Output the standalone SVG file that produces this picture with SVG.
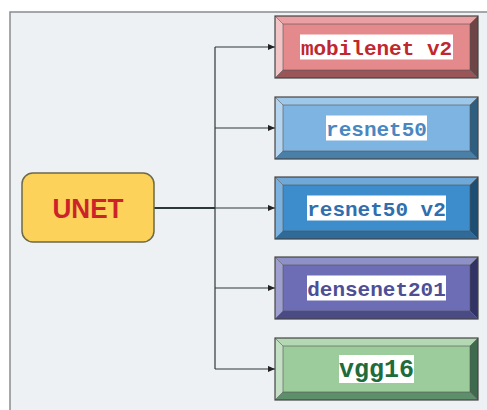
<svg xmlns="http://www.w3.org/2000/svg" width="487" height="410" viewBox="0 0 487 410">
<style>
.frame{fill:#eef1f4;stroke:#8a8c8e;stroke-width:1.5}
.unet{fill:#fdd25a;stroke:#6b6a4a;stroke-width:1.5}
.unett{font-family:"Liberation Sans",Arial,sans-serif;font-weight:bold;font-size:28px;fill:#cc2229}
.edge{fill:none;stroke:#2b3838;stroke-width:1.2}
.main{fill:none;stroke:#2b3838;stroke-width:2}
.out{fill:none;stroke:#444;stroke-width:1.2}
.in{fill:none;stroke:#555;stroke-width:0.6}
.lbl{fill:#fff}
.t{font-family:"Liberation Mono","Courier New",monospace;font-weight:bold;font-size:21px;text-anchor:middle}
</style>
<defs>
<marker id="arr" viewBox="0 0 8 8" refX="8" refY="4" markerWidth="7" markerHeight="7" markerUnits="userSpaceOnUse" orient="auto">
<path d="M0,0.5 L8,4 L0,7.5 Z" fill="#222"/>
</marker>
</defs>
<rect class="frame" x="10" y="12" width="490" height="410"/>

<g id="connectors">
<line class="main" x1="154" y1="208" x2="215" y2="208"/>
<line class="edge" x1="215" y1="47" x2="215" y2="369"/>
<line class="edge" x1="215" y1="47" x2="275" y2="47" marker-end="url(#arr)"/>
<line class="edge" x1="215" y1="128" x2="275" y2="128" marker-end="url(#arr)"/>
<line class="edge" x1="215" y1="208" x2="275" y2="208" marker-end="url(#arr)"/>
<line class="edge" x1="215" y1="288" x2="275" y2="288" marker-end="url(#arr)"/>
<line class="edge" x1="215" y1="369" x2="275" y2="369" marker-end="url(#arr)"/>
</g>

<g id="unet">
<rect class="unet" x="22" y="173" width="132" height="69" rx="11"/>
<text class="unett" x="88" y="218" text-anchor="middle" textLength="71" lengthAdjust="spacingAndGlyphs">UNET</text>
</g>

<g id="mobilenet" transform="translate(275,16)">
<rect x="8" y="8" width="187" height="46" fill="#e4898c"/>
<polygon points="0,0 203,0 195,8 8,8" fill="#eaa0a2"/>
<polygon points="0,0 8,8 8,54 0,62" fill="#f2c4c5"/>
<polygon points="203,0 195,8 195,54 203,62" fill="#6e4446"/>
<polygon points="0,62 8,54 195,54 203,62" fill="#9a5558"/>
<path class="in" d="M0,0 L8,8 M203,0 L195,8 M0,62 L8,54 M203,62 L195,54"/>
<rect class="in" x="8" y="8" width="187" height="46"/>
<rect class="out" x="0" y="0" width="203" height="62"/>
<rect class="lbl" x="25" y="18.5" width="153" height="25"/>
<text class="t" x="101.5" y="38.5" fill="#c0282d">mobilenet v2</text>
</g>

<g id="resnet50" transform="translate(275,97)">
<rect x="8" y="8" width="187" height="46" fill="#7db4e2"/>
<polygon points="0,0 203,0 195,8 8,8" fill="#9ec8ea"/>
<polygon points="0,0 8,8 8,54 0,62" fill="#b4d4ef"/>
<polygon points="203,0 195,8 195,54 203,62" fill="#2e5f80"/>
<polygon points="0,62 8,54 195,54 203,62" fill="#4a7fa8"/>
<path class="in" d="M0,0 L8,8 M203,0 L195,8 M0,62 L8,54 M203,62 L195,54"/>
<rect class="in" x="8" y="8" width="187" height="46"/>
<rect class="out" x="0" y="0" width="203" height="62"/>
<rect class="lbl" x="51" y="18.5" width="101" height="25"/>
<text class="t" x="101.5" y="38.5" fill="#4a86bf">resnet50</text>
</g>

<g id="resnet50v2" transform="translate(275,177)">
<rect x="8" y="8" width="187" height="46" fill="#3d8ccb"/>
<polygon points="0,0 203,0 195,8 8,8" fill="#6ea9d9"/>
<polygon points="0,0 8,8 8,54 0,62" fill="#7bb2df"/>
<polygon points="203,0 195,8 195,54 203,62" fill="#1d4e73"/>
<polygon points="0,62 8,54 195,54 203,62" fill="#2f6a98"/>
<path class="in" d="M0,0 L8,8 M203,0 L195,8 M0,62 L8,54 M203,62 L195,54"/>
<rect class="in" x="8" y="8" width="187" height="46"/>
<rect class="out" x="0" y="0" width="203" height="62"/>
<rect class="lbl" x="32" y="18.5" width="139" height="25"/>
<text class="t" x="101.5" y="38.5" fill="#2f6fae">resnet50 v2</text>
</g>

<g id="densenet201" transform="translate(275,257)">
<rect x="8" y="8" width="187" height="46" fill="#6c6db5"/>
<polygon points="0,0 203,0 195,8 8,8" fill="#8e90c8"/>
<polygon points="0,0 8,8 8,54 0,62" fill="#9fa0d0"/>
<polygon points="203,0 195,8 195,54 203,62" fill="#313366"/>
<polygon points="0,62 8,54 195,54 203,62" fill="#4a4b85"/>
<path class="in" d="M0,0 L8,8 M203,0 L195,8 M0,62 L8,54 M203,62 L195,54"/>
<rect class="in" x="8" y="8" width="187" height="46"/>
<rect class="out" x="0" y="0" width="203" height="62"/>
<rect class="lbl" x="32" y="18.5" width="139" height="25"/>
<text class="t" x="101.5" y="38.5" fill="#4d4f96">densenet201</text>
</g>

<g id="vgg16" transform="translate(275,338)">
<rect x="8" y="8" width="187" height="46" fill="#9ccb9c"/>
<polygon points="0,0 203,0 195,8 8,8" fill="#b3d8b3"/>
<polygon points="0,0 8,8 8,54 0,62" fill="#c4e0c4"/>
<polygon points="203,0 195,8 195,54 203,62" fill="#3e6b4e"/>
<polygon points="0,62 8,54 195,54 203,62" fill="#5d8f6a"/>
<path class="in" d="M0,0 L8,8 M203,0 L195,8 M0,62 L8,54 M203,62 L195,54"/>
<rect class="in" x="8" y="8" width="187" height="46"/>
<rect class="out" x="0" y="0" width="203" height="62"/>
<rect class="lbl" x="64" y="17" width="75" height="28"/>
<text class="t" x="101.5" y="39" fill="#1e6b3c" style="font-size:25px">vgg16</text>
</g>
</svg>
